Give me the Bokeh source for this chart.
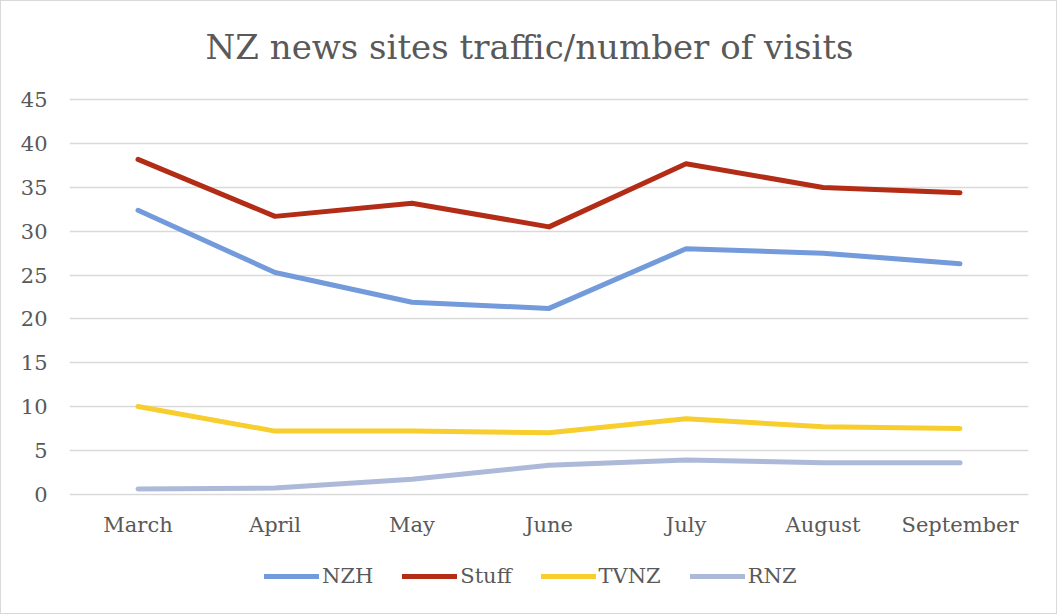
from bokeh.plotting import figure
from bokeh.models import FactorRange, Range1d, FixedTicker, Legend, LegendItem, Label, ColumnDataSource
from bokeh.embed import file_html
from bokeh.resources import INLINE

months = ["March", "April", "May", "June", "July", "August", "September"]
nzh = [32.4, 25.3, 21.9, 21.2, 28.0, 27.5, 26.3]
stuff = [38.2, 31.7, 33.2, 30.5, 37.7, 35.0, 34.4]
tvnz = [10.0, 7.2, 7.2, 7.0, 8.6, 7.7, 7.5]
rnz = [0.6, 0.7, 1.7, 3.3, 3.9, 3.6, 3.6]
y_ticks = [0, 5, 10, 15, 20, 25, 30, 35, 40, 45]
series_names = ["NZH", "Stuff", "TVNZ", "RNZ"]
colors = ["#739ADA", "#B22C16", "#F7CE2E", "#ADB9D8"]
title_text = "NZ news sites traffic/number of visits"

FONT = "DejaVu Serif"
TXT = "#595959"
GRID = "#D9D9D9"

W, H = 1057, 614
p = figure(width=W, height=H, x_range=FactorRange(*months, range_padding=0),
           y_range=Range1d(-12.70, 55.075), output_backend="svg", toolbar_location=None,
           min_border_left=68, min_border_right=30, min_border_top=10, min_border_bottom=10)
p.outline_line_color = None
p.background_fill_color = "white"
p.border_fill_color = "white"
p.styles = {"border": "1.5px solid #D9D9D9", "box-sizing": "border-box"}

renderers = []
for name, vals, c in zip(series_names, [nzh, stuff, tvnz, rnz], colors):
    r = p.line(months, vals, line_color=c, line_width=5, line_cap="round", line_join="round")
    renderers.append((name, r))

p.xgrid.grid_line_color = None
p.ygrid.grid_line_color = GRID
p.ygrid.grid_line_width = 1.5
p.yaxis.ticker = FixedTicker(ticks=y_ticks)

p.yaxis.axis_line_color = None
p.yaxis.major_tick_line_color = None
p.yaxis.major_tick_out = 0
p.yaxis.minor_tick_out = 0
p.yaxis.minor_tick_line_color = None
p.yaxis.major_label_standoff = 22
p.yaxis.major_label_text_font = FONT
p.yaxis.major_label_text_font_size = "21px"
p.yaxis.major_label_text_color = TXT

p.xaxis.visible = False

# category labels under the zero line
lab_src = ColumnDataSource(dict(x=months, y=[-3.57] * len(months), t=months))
p.text(x="x", y="y", text="t", source=lab_src, text_align="center", text_baseline="middle",
       text_font={"value": FONT}, text_font_size="21px", text_color=TXT)

legend = Legend(items=[LegendItem(label=n, renderers=[r]) for n, r in renderers],
                orientation="horizontal", location=(195, 17),
                glyph_width=55, glyph_height=20, label_height=20, label_standoff=3,
                spacing=29, padding=0, margin=0, border_line_color=None,
                background_fill_alpha=0,
                label_text_font=FONT, label_text_font_size="21px", label_text_color=TXT)
p.add_layout(legend, "center")

t = Label(x=3.358, y=51.06, text=title_text,
          text_align="center", text_baseline="middle", text_font=FONT,
          text_font_size="34px", text_color=TXT)
p.add_layout(t)

open("out.html", "w").write(file_html(p, INLINE))
